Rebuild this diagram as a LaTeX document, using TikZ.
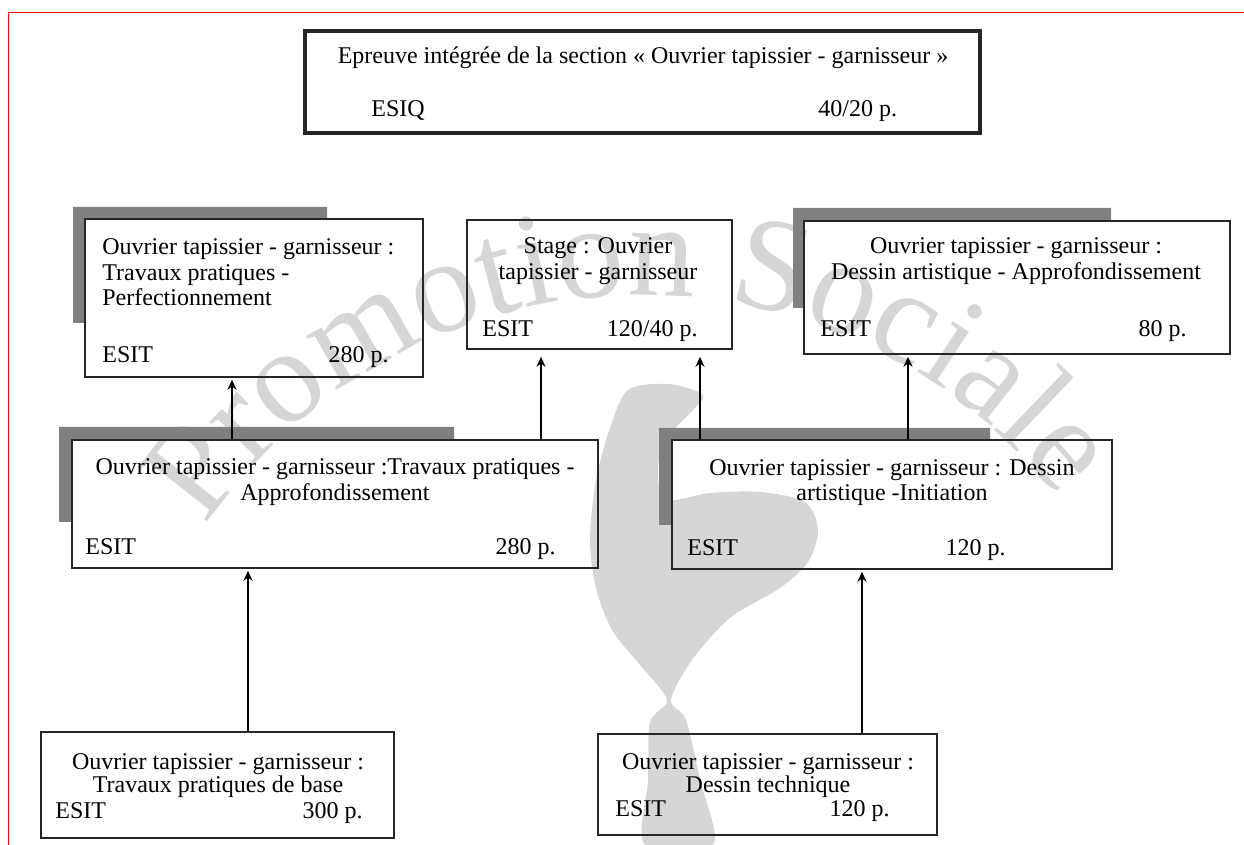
\documentclass[tikz,border=0pt]{standalone}
\usepackage{fontspec}
\setmainfont{Liberation Serif}
\usetikzlibrary{fit,decorations.text,arrows.meta}
\definecolor{wmgray}{RGB}{214,214,214}
\definecolor{shadegray}{RGB}{128,128,128}
\begin{document}
\begin{tikzpicture}[x=0.5pt,y=-0.5pt,>={Stealth[length=5pt,width=4.5pt]},
    box/.style={draw=black!85,line width=0.75pt,inner sep=0pt},
    txt/.style={inner sep=0pt,font=\fontsize{12}{12.75}\selectfont},
    ttl/.style={txt,align=center,anchor=north},
    lft/.style={txt,anchor=base west},
    rgt/.style={txt,anchor=base east},
    shade/.style={fill=shadegray},
    link/.style={->,line width=0.75pt,shorten >=1pt}]
\useasboundingbox (0,0) rectangle (1244,845);
% watermark
\fill[wmgray] plot[smooth cycle] coordinates {(628,390) (668,384) (703,395) (688,415)
    (665,440) (658,470) (665,500) (710,493) (760,492) (805,502) (818,530) (808,562)
    (780,588) (730,618) (692,660) (671,700) (686,720) (700,780) (713,845) (645,845)
    (648,780) (650,722) (667,700) (640,665) (612,630) (596,588) (590,540) (596,480)
    (610,428)};
\path[decorate,decoration={text along path,text align=center,
    text={|\color{wmgray}\fontsize{67}{67}\selectfont|Promotion Sociale}}]
    (642,822) ++(214:527) arc[start angle=214,end angle=322.4,radius=527];
% frame
\draw[red,line width=0.6pt] (8.5,845) -- (8.5,12.5) -- (1244,12.5);
% shadows
\fill[shade] (73,207) -| (327,219) -| (85,323) -| (73,207) -- cycle;
\fill[shade] (793,208) -| (1111,221) -| (804,308) -| (793,208) -- cycle;
\fill[shade] (59,427) -| (454,440) -| (72,522) -| (59,427) -- cycle;
\fill[shade] (659,428) -| (990,440) -| (672,525) -| (659,428) -- cycle;
% boxes
\node[box,line width=2pt,fit={(305,31)(980,133)}] (T) {};
\node[box,fit={(85,219)(423,377)}] (A) {};
\node[box,fit={(467,220)(732,349)}] (B) {};
\node[box,fit={(804,221)(1230,354)}] (C) {};
\node[box,fit={(72,440)(598,568)}] (D) {};
\node[box,fit={(672,440)(1112,569)}] (E) {};
\node[box,fit={(41,732)(394,838)}] (F) {};
\node[box,fit={(598,734)(937,835)}] (G) {};
% texts
\node[ttl] (T-t) at (643,46.5) {Epreuve intégrée de la section « Ouvrier tapissier - garnisseur »};
\node[lft] (T-l) at (371,117) {ESIQ};
\node[lft] (T-r) at (818,117) {40/20 p.};
\node[ttl,align=left,anchor=north west] (A-t) at (102,238.5) {Ouvrier tapissier - garnisseur :\\Travaux pratiques -\\Perfectionnement};
\node[lft] (A-l) at (102,363) {ESIT};
\node[rgt] (A-r) at (389,363) {280 p.};
\node[ttl] (B-t) at (598,237.5) {Stage : Ouvrier\\tapissier - garnisseur};
\node[lft] (B-l) at (482,337) {ESIT};
\node[rgt] (B-r) at (698,337) {120/40 p.};
\node[ttl] (C-t) at (1016,237.5) {Ouvrier tapissier - garnisseur :\\Dessin artistique - Approfondissement};
\node[lft] (C-l) at (820,337) {ESIT};
\node[rgt] (C-r) at (1187,337) {80 p.};
\node[ttl] (D-t) at (335,458.5) {Ouvrier tapissier - garnisseur :Travaux pratiques -\\Approfondissement};
\node[lft] (D-l) at (85,554) {ESIT};
\node[rgt] (D-r) at (556,554) {280 p.};
\node[ttl] (E-t) at (892,459) {Ouvrier tapissier - garnisseur : Dessin\\artistique -Initiation};
\node[lft] (E-l) at (687,555) {ESIT};
\node[rgt] (E-r) at (1006,555) {120 p.};
\node[ttl,font=\fontsize{12}{11.5}\selectfont] (F-t) at (218,753.5) {Ouvrier tapissier - garnisseur :\\Travaux pratiques de base};
\node[lft] (F-l) at (55,818) {ESIT};
\node[rgt] (F-r) at (363,818) {300 p.};
\node[ttl,font=\fontsize{12}{11.5}\selectfont] (G-t) at (768,753.5) {Ouvrier tapissier - garnisseur :\\Dessin technique};
\node[lft] (G-l) at (615,816) {ESIT};
\node[rgt] (G-r) at (890,816) {120 p.};
% arrows
\draw[link] (232,0 |- D.north) -- (232,0 |- A.south);
\draw[link,shorten >=3.5pt] (541,0 |- D.north) -- (541,0 |- B.south);
\draw[link,shorten >=3.5pt] (700,0 |- E.north) -- (700,0 |- B.south);
\draw[link] (908,0 |- E.north) -- (908,0 |- C.south);
\draw[link] (248,0 |- F.north) -- (248,0 |- D.south);
\draw[link] (862,0 |- G.north) -- (862,0 |- E.south);
\end{tikzpicture}
\end{document}
